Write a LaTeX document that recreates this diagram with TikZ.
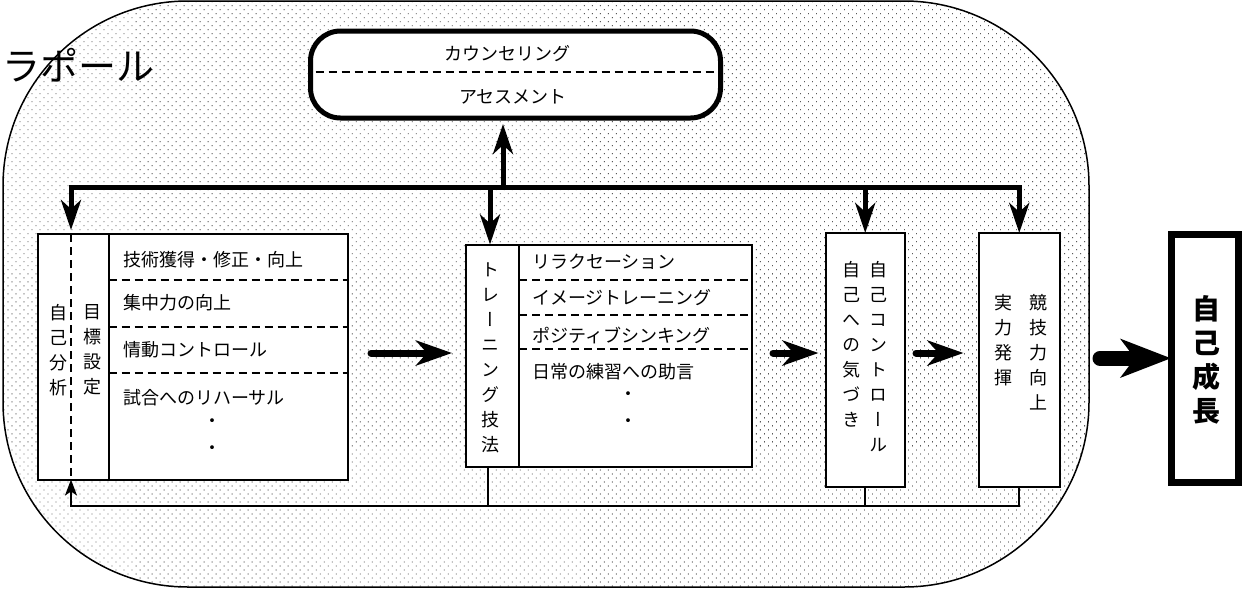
\documentclass[tikz,border=0pt]{standalone}
\usepackage{fontspec}
\setmainfont{Noto Sans CJK JP}
\newfontfamily\jpvert[RawFeature=+vert]{Noto Sans CJK JP}
\usetikzlibrary{arrows.meta,patterns.meta}
\tikzset{
  bustip/.tip={Stealth[length=30pt,width=20pt,inset=9pt]},
  flowtip/.tip={Stealth[length=36pt,width=25pt,inset=11pt]},
  bigtip/.tip={Stealth[length=50pt,width=38pt,inset=14pt]},
  fbtip/.tip={Stealth[length=16pt,width=12pt,inset=4pt]},
  box/.style={draw,line width=2pt,fill=white,inner sep=0pt,outer sep=0pt},
  item/.style={font=\fontsize{18}{20}\selectfont,inner sep=0pt,anchor=west},
  tate/.style={font=\jpvert\fontsize{18}{25}\selectfont,align=center,inner sep=0pt},
  sep/.style={line width=2pt,dash pattern=on 8pt off 5pt},
  busline/.style={line width=5pt},
  flow/.style={line width=7pt,line cap=round,-flowtip},
  feedback/.style={line width=2pt}
}
\begin{document}
\begin{tikzpicture}[x=1pt,y=-1pt]
\useasboundingbox (0,0) rectangle (1242,590);
\node[draw,line width=1.5pt,rounded corners=185pt,pattern={Dots[distance=5.66pt,angle=45,radius=0.6pt]},minimum width=1086pt,minimum height=586pt,inner sep=0pt,outer sep=0pt] (rapport) at (546,294) {};
\node[font=\fontsize{38}{40}\selectfont,inner sep=0pt] (title) at (78,65) {ラポール};

\node[box,line width=5pt,rounded corners=30pt,minimum width=410pt,minimum height=87pt] (assess) at (515.5,74.5) {};
\node[item,anchor=center] (counsel) at (507,54) {カウンセリング};
\node[item,anchor=center] (assessment) at (513,97) {アセスメント};
\draw[sep] ([xshift=5pt,yshift=2.5pt]assess.west) -- ([xshift=-5pt,yshift=2.5pt]assess.east);

\node[box,minimum width=310pt,minimum height=245.5pt] (analysis) at (193,356.75) {};
\draw[line width=2pt] ([xshift=70.5pt]analysis.north west) -- ([xshift=70.5pt]analysis.south west);
\foreach \y in {280,327,373} \draw[sep] (108.5,\y) -- (348,\y);
\foreach \y/\t [count=\i] in {260/技術獲得・修正・向上,303/集中力の向上,350/情動コントロール,398/試合へのリハーサル}
  \node[item] (goal\i) at (123,\y) {\t};
\node[item,anchor=center] (gdot1) at (212,423) {・};
\node[item,anchor=center] (gdot2) at (212,450) {・};
\node[tate] (selfan) at (58,350) {自\\己\\分\\析};
\node[tate] (goalset) at (92,350) {目\\標\\設\\定};

\node[box,minimum width=286pt,minimum height=222.5pt] (training) at (609,355.75) {};
\draw[line width=2pt] ([xshift=53pt]training.north west) -- ([xshift=53pt]training.south west);
\foreach \y in {280,315,349} \draw[sep] (519,\y) -- (752,\y);
\foreach \y/\t [count=\i] in {262/リラクセーション,298/イメージトレーニング,335/ポジティブシンキング,372/日常の練習への助言}
  \node[item] (tech\i) at (532,\y) {\t};
\node[item,anchor=center] (tdot1) at (628,396) {・};
\node[item,anchor=center] (tdot2) at (628,423) {・};
\node[tate] (techname) at (490,357.5) {ト\\レ\\ー\\ニ\\ン\\グ\\技\\法};

\node[box,minimum width=79.5pt,minimum height=254pt] (control) at (865.25,360) {};
\node[tate,anchor=north] (selfctrl) at (878,261.5) {自\\己\\コ\\ン\\ト\\ロ\\ー\\ル};
\node[tate,anchor=north] (aware) at (851,261.5) {自\\己\\へ\\の\\気\\づ\\き};

\node[box,minimum width=81.5pt,minimum height=254pt] (perform) at (1019.25,360) {};
\node[tate,anchor=north] (compete) at (1038,294.5) {競\\技\\力\\向\\上};
\node[tate,anchor=north] (exert) at (1003,294.5) {実\\力\\発\\揮};

\node[box,line width=7pt,minimum width=67.5pt,minimum height=247.5pt] (growth) at (1204.75,358.25) {};
\node[tate,font=\jpvert\bfseries\fontsize{28}{34}\selectfont] (growthtext) at (1206,360) {自\\己\\成\\長};

\coordinate (busL) at (71,187.5);
\coordinate (busR) at (perform.north |- busL);
\coordinate (up) at (503,187.5);
\coordinate (down) at (490,187.5);
\draw[busline,bustip-bustip,shorten <=4pt] (busL |- analysis.north) -- (busL) -- (busR) -- (perform.north);
\draw[busline,-bustip,shorten >=6pt] (up) -- (up |- assess.south);
\draw[busline,-bustip] (down) -- (down |- training.north);
\draw[busline,-bustip] (control.north |- busL) -- (control.north);

\coordinate (flowy) at (0,353);
\draw[flow,shorten <=23pt,shorten >=14pt] (analysis.east |- flowy) -- (training.west |- flowy);
\draw[flow,shorten <=21pt,shorten >=7pt] (training.east |- flowy) -- (control.west |- flowy);
\draw[flow,shorten <=11pt,shorten >=15pt] (control.east |- flowy) -- (perform.west |- flowy);
\draw[line width=15pt,line cap=round,-bigtip,shorten <=11pt] (rapport.east |- growth.west) -- (growth.west);

\coordinate (fbL) at (71,506);
\coordinate (trfoot) at ([xshift=22pt]training.south west);
\draw[sep] (busL |- analysis.north) -- (busL |- analysis.south);
\draw[feedback,-fbtip] (perform.south) |- (fbL) -- (fbL |- analysis.south);
\draw[feedback] (control.south) -- (control.south |- fbL);
\draw[feedback] (trfoot) -- (trfoot |- fbL);
\end{tikzpicture}
\end{document}
